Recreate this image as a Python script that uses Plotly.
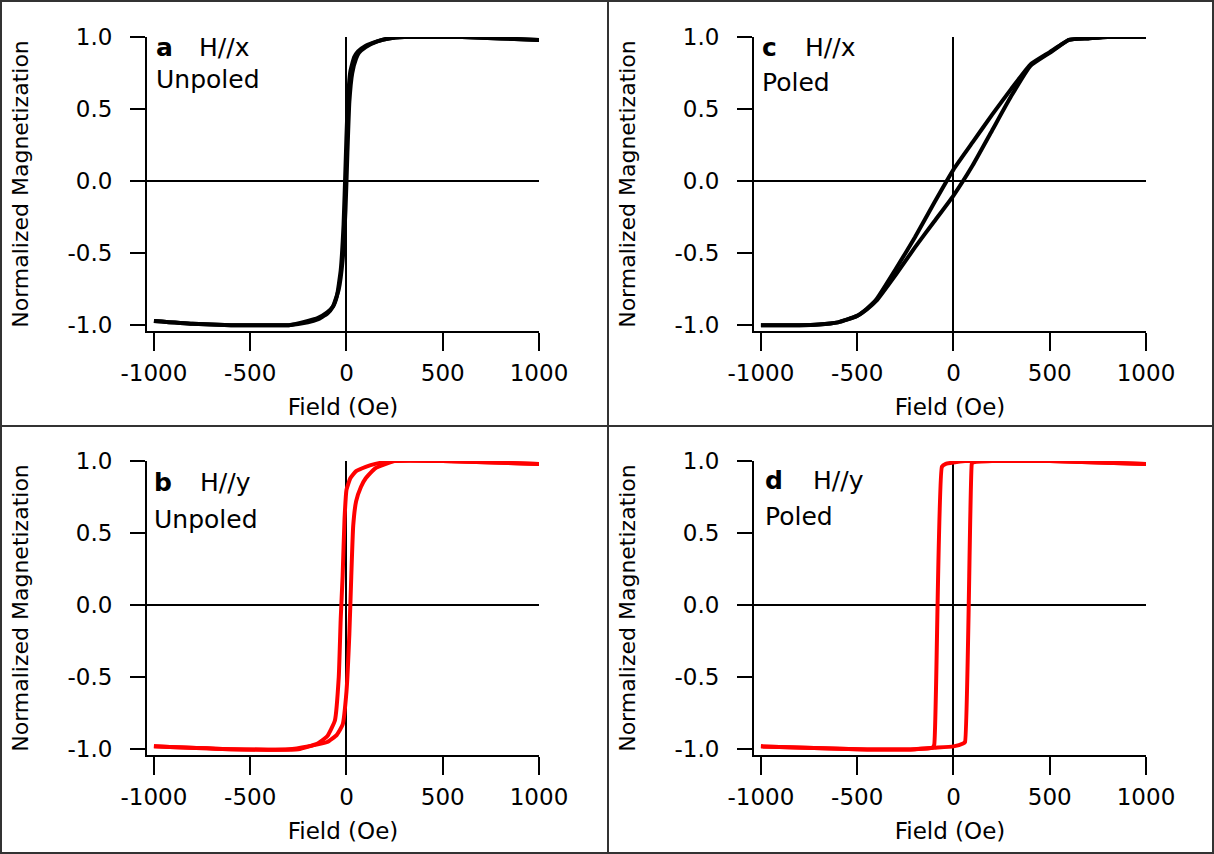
import plotly.graph_objects as go

W, H = 1214, 854

# ---------------- data (field in Oe, normalized magnetization) ----------------
# Panel a: H//x, unpoled
a_up_field = [-1000, -800, -600, -400, -300, -200, -150, -100, -70, -40, -20, -5, 5, 15, 30, 50, 65, 100, 160, 220, 300, 400, 600, 800, 1000]
a_up_m     = [-0.97, -0.99, -1.0, -1.0, -1.0, -0.98, -0.96, -0.92, -0.87, -0.75, -0.55, -0.2, 0.2, 0.55, 0.75, 0.85, 0.89, 0.93, 0.97, 0.99, 1.0, 1.0, 1.0, 0.99, 0.98]
a_dn_field = [1000, 800, 600, 400, 300, 220, 160, 100, 60, 40, 20, 5, -5, -15, -30, -50, -70, -100, -150, -200, -300, -400, -600, -800, -1000]
a_dn_m     = [0.98, 0.99, 1.0, 1.0, 1.0, 0.99, 0.97, 0.94, 0.90, 0.86, 0.76, 0.5, 0.1, -0.3, -0.62, -0.80, -0.87, -0.91, -0.95, -0.97, -1.0, -1.0, -1.0, -0.99, -0.97]

# Panel b: H//y, unpoled
b_up_field = [-1000, -600, -300, -200, -100, -50, -20, 0, 15, 25, 35, 50, 75, 100, 150, 250, 500, 1000]
b_up_m     = [-0.98, -1.0, -1.0, -0.98, -0.95, -0.90, -0.83, -0.6, -0.2, 0.2, 0.55, 0.72, 0.82, 0.88, 0.95, 1.0, 1.0, 0.98]
b_dn_field = [1000, 500, 250, 150, 100, 50, 20, 0, -10, -20, -30, -40, -60, -100, -150, -250, -600, -1000]
b_dn_m     = [0.98, 1.0, 1.0, 0.98, 0.96, 0.93, 0.88, 0.80, 0.6, 0.2, -0.1, -0.5, -0.8, -0.91, -0.96, -1.0, -1.0, -0.98]

# Panel c: H//x, poled
c_field    = [-1000, -800, -700, -600, -550, -500, -450, -400, -300, -200, -100, 0, 100, 200, 300, 400, 500, 600, 700, 800, 900, 1000]
c_up_m     = [-1.0, -1.0, -0.995, -0.98, -0.96, -0.935, -0.89, -0.83, -0.65, -0.46, -0.28, -0.10, 0.11, 0.35, 0.59, 0.80, 0.89, 0.98, 0.99, 1.0, 1.0, 1.0]
c_dn_m     = [-1.0, -1.0, -0.995, -0.98, -0.96, -0.935, -0.885, -0.82, -0.61, -0.39, -0.15, 0.08, 0.27, 0.46, 0.64, 0.81, 0.895, 0.98, 0.99, 1.0, 1.0, 1.0]

# Panel d: H//y, poled
d_dn_field = [1000, 500, 100, 60, 0, -40, -60, -100, -110, -200, -500, -1000]
d_dn_m     = [0.98, 1.0, 1.0, 1.0, 0.99, 0.98, 0.96, -0.97, -0.99, -1.0, -1.0, -0.98]
d_up_field = [-1000, -500, -200, -100, 0, 50, 60, 95, 100, 200, 500, 1000]
d_up_m     = [-0.98, -1.0, -1.0, -0.99, -0.98, -0.96, -0.95, 0.98, 0.99, 1.0, 1.0, 0.98]

x_tickvals = [-1000, -500, 0, 500, 1000]
x_ticktext = ["-1000", "-500", "0", "500", "1000"]
y_tickvals = [-1.0, -0.5, 0.0, 0.5, 1.0]
y_ticktext = ["-1.0", "-0.5", "0.0", "0.5", "1.0"]

panel_letters = ["a", "b", "c", "d"]
panel_dirs = ["H//x", "H//y", "H//x", "H//y"]
panel_states = ["Unpoled", "Unpoled", "Poled", "Poled"]

x_title = "Field (Oe)"
y_title = "Normalized Magnetization"

# ---------------- figure ----------------
FONT = "DejaVu Sans"
fig = go.Figure()

BLACK = "#000000"
RED = "#ff0000"

# axis ids: a -> (x, y), c -> (x2, y2), b -> (x3, y3), d -> (x4, y4)
traces = [
    ("x", "y", a_up_field, a_up_m, BLACK), ("x", "y", a_dn_field, a_dn_m, BLACK),
    ("x3", "y3", b_up_field, b_up_m, RED), ("x3", "y3", b_dn_field, b_dn_m, RED),
    ("x2", "y2", c_field, c_up_m, BLACK), ("x2", "y2", c_field, c_dn_m, BLACK),
    ("x4", "y4", d_up_field, d_up_m, RED), ("x4", "y4", d_dn_field, d_dn_m, RED),
]
for xa, ya, xs, ys, col in traces:
    fig.add_trace(go.Scatter(x=xs, y=ys, xaxis=xa, yaxis=ya, mode="lines",
                             line=dict(color=col, width=4, shape="spline", smoothing=0.4),
                             showlegend=False, hoverinfo="skip"))

col_px = [(147, 539), (754, 1146)]
row_px = [(37, 331), (461, 755)]

def px2x(p):
    return p / W

def px2y(p):
    return 1 - p / H

axis_map = {  # (col, row)
    "": (0, 0), "2": (1, 0), "3": (0, 1), "4": (1, 1)
}
for suffix, (ci, ri) in axis_map.items():
    xd = [px2x(col_px[ci][0]), px2x(col_px[ci][1])]
    yd = [px2y(row_px[ri][1]), px2y(row_px[ri][0])]
    fig.layout["xaxis" + suffix] = dict(
        domain=xd, range=[-1036, 1000], anchor="y" + suffix, automargin=False,
        showline=True, linecolor=BLACK, linewidth=2,
        ticks="outside", ticklen=18, tickwidth=2, tickcolor=BLACK,
        tickvals=x_tickvals, ticktext=x_ticktext,
        tickfont=dict(family=FONT, size=23, color=BLACK),
        ticklabelstandoff=2,
        showgrid=False, zeroline=True, zerolinecolor=BLACK, zerolinewidth=1.5,
        title=dict(text=x_title, font=dict(family=FONT, size=23, color=BLACK), standoff=14),
        fixedrange=True,
    )
    fig.layout["yaxis" + suffix] = dict(
        domain=yd, range=[-1.04, 1.0], anchor="x" + suffix, automargin=False,
        showline=True, linecolor=BLACK, linewidth=2,
        ticks="outside", ticklen=15, tickwidth=2, tickcolor=BLACK,
        tickvals=y_tickvals, ticktext=y_ticktext,
        tickfont=dict(family=FONT, size=23, color=BLACK),
        ticklabelstandoff=13,
        showgrid=False, zeroline=True, zerolinecolor=BLACK, zerolinewidth=1.5,
        title=dict(text=y_title, font=dict(family=FONT, size=22, color=BLACK), standoff=33),
        fixedrange=True,
    )

# panel labels: (letter_x, dir_x, line1_mid_y, line2_mid_y)
label_pos = {
    "a": (155, 198, 48, 79),
    "b": (153, 199, 483, 519),
    "c": (761, 804, 48, 82),
    "d": (764, 812, 481, 516),
}
annotations = []
for letter, direc, state in zip(panel_letters, panel_dirs, panel_states):
    lx, dx, y1, y2 = label_pos[letter]
    common = dict(xref="paper", yref="paper", showarrow=False, xanchor="left",
                  yanchor="middle", borderpad=0, font=dict(family=FONT, size=25, color=BLACK))
    annotations.append(dict(text="<b>" + letter + "</b>", x=px2x(lx), y=px2y(y1), **common))
    annotations.append(dict(text=direc, x=px2x(dx), y=px2y(y1), **common))
    annotations.append(dict(text=state, x=px2x(lx), y=px2y(y2), **common))

# frame lines (outer border + dividers)
shapes = [
    dict(type="rect", xref="paper", yref="paper", x0=px2x(1), x1=px2x(1213), y0=px2y(853), y1=px2y(1),
         line=dict(color="#333333", width=2)),
    dict(type="line", xref="paper", yref="paper", x0=px2x(608), x1=px2x(608), y0=0, y1=1,
         line=dict(color="#333333", width=2)),
    dict(type="line", xref="paper", yref="paper", x0=0, x1=1, y0=px2y(426), y1=px2y(426),
         line=dict(color="#333333", width=2)),
]

fig.update_layout(
    width=W, height=H, autosize=False,
    margin=dict(l=0, r=0, t=0, b=0, pad=0, autoexpand=False),
    paper_bgcolor="white", plot_bgcolor="white",
    annotations=annotations, shapes=shapes,
    font=dict(family=FONT, color=BLACK),
    showlegend=False,
)

fig.write_html("out.html", config={"displayModeBar": False})
